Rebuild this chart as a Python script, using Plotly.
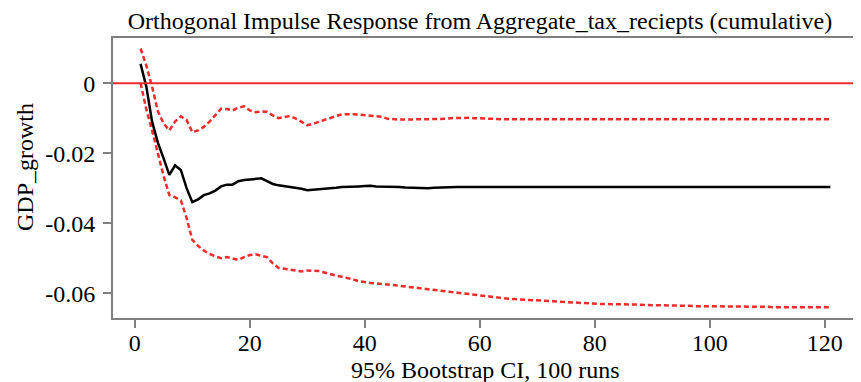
import plotly.graph_objects as go

periods = list(range(1, 122))

response = [
    0.0055, -0.0010, -0.0110, -0.0170, -0.0215, -0.0262, -0.0235, -0.0248, -0.0300, -0.0340,
    -0.0332, -0.0320, -0.0315, -0.0307, -0.0295, -0.0290, -0.0290, -0.0280, -0.0277, -0.0276,
    -0.0273, -0.0272, -0.0280, -0.0288, -0.0292, -0.0294, -0.0297, -0.0300, -0.0302, -0.0306,
    -0.0305, -0.0304, -0.0303, -0.0302, -0.0299, -0.0297, -0.0297, -0.0296, -0.0295, -0.0294,
    -0.0293, -0.0295, -0.0295, -0.0296, -0.0296, -0.0297, -0.0298, -0.0299, -0.0300, -0.0300,
    -0.0300, -0.0299, -0.0298, -0.0297, -0.0297, -0.0297, -0.0297, -0.0297, -0.0297, -0.0297,
    -0.0297, -0.0297, -0.0297, -0.0297, -0.0297, -0.0297, -0.0297, -0.0297, -0.0297, -0.0297,
    -0.0297, -0.0297, -0.0297, -0.0297, -0.0297, -0.0297, -0.0297, -0.0297, -0.0297, -0.0297,
    -0.0297, -0.0297, -0.0297, -0.0297, -0.0297, -0.0297, -0.0297, -0.0297, -0.0297, -0.0297,
    -0.0297, -0.0297, -0.0297, -0.0297, -0.0297, -0.0297, -0.0297, -0.0297, -0.0297, -0.0297,
    -0.0297, -0.0297, -0.0297, -0.0297, -0.0297, -0.0297, -0.0297, -0.0297, -0.0297, -0.0297,
    -0.0297, -0.0297, -0.0297, -0.0297, -0.0297, -0.0297, -0.0297, -0.0297, -0.0297, -0.0297,
    -0.0297,
]

upper_ci = [
    0.0099, 0.0050, -0.0010, -0.0080, -0.0115, -0.0135, -0.0110, -0.0095, -0.0105, -0.0140,
    -0.0135, -0.0125, -0.0110, -0.0090, -0.0073, -0.0074, -0.0078, -0.0070, -0.0066, -0.0078,
    -0.0083, -0.0081, -0.0082, -0.0092, -0.0100, -0.0097, -0.0094, -0.0101, -0.0110, -0.0120,
    -0.0116, -0.0110, -0.0105, -0.0099, -0.0094, -0.0089, -0.0088, -0.0089, -0.0090, -0.0091,
    -0.0092, -0.0093, -0.0096, -0.0102, -0.0104, -0.0104, -0.0104, -0.0104, -0.0104, -0.0104,
    -0.0104, -0.0104, -0.0103, -0.0102, -0.0100, -0.0099, -0.0098, -0.0099, -0.0100, -0.0101,
    -0.0102, -0.0103, -0.0103, -0.0103, -0.0103, -0.0103, -0.0103, -0.0103, -0.0103, -0.0103,
    -0.0103, -0.0103, -0.0103, -0.0103, -0.0103, -0.0103, -0.0103, -0.0103, -0.0103, -0.0103,
    -0.0103, -0.0103, -0.0103, -0.0103, -0.0103, -0.0103, -0.0103, -0.0103, -0.0103, -0.0103,
    -0.0103, -0.0103, -0.0103, -0.0103, -0.0103, -0.0103, -0.0103, -0.0103, -0.0103, -0.0103,
    -0.0103, -0.0103, -0.0103, -0.0103, -0.0103, -0.0103, -0.0103, -0.0103, -0.0103, -0.0103,
    -0.0103, -0.0103, -0.0103, -0.0103, -0.0103, -0.0103, -0.0103, -0.0103, -0.0103, -0.0103,
    -0.0103,
]

lower_ci = [
    0.0000, -0.0075, -0.0135, -0.0200, -0.0265, -0.0320, -0.0326, -0.0335, -0.0385, -0.0448,
    -0.0465, -0.0478, -0.0488, -0.0495, -0.0500, -0.0497, -0.0500, -0.0505, -0.0497, -0.0491,
    -0.0489, -0.0493, -0.0497, -0.0515, -0.0528, -0.0530, -0.0532, -0.0536, -0.0538, -0.0535,
    -0.0535, -0.0537, -0.0541, -0.0546, -0.0550, -0.0553, -0.0556, -0.0561, -0.0566, -0.0569,
    -0.0571, -0.0572, -0.0573, -0.0575, -0.0577, -0.0579, -0.0581, -0.0583, -0.0586, -0.0588,
    -0.0590, -0.0592, -0.0594, -0.0596, -0.0598, -0.0600, -0.0602, -0.0604, -0.0606, -0.0608,
    -0.0609, -0.0611, -0.0613, -0.0614, -0.0616, -0.0617, -0.0618, -0.0620, -0.0621, -0.0622,
    -0.0623, -0.0624, -0.0625, -0.0626, -0.0627, -0.0628, -0.0629, -0.0630, -0.0630, -0.0631,
    -0.0631, -0.0631, -0.0631, -0.0632, -0.0632, -0.0633, -0.0633, -0.0633, -0.0634, -0.0634,
    -0.0635, -0.0635, -0.0635, -0.0636, -0.0636, -0.0636, -0.0637, -0.0637, -0.0637, -0.0637,
    -0.0638, -0.0638, -0.0638, -0.0638, -0.0639, -0.0639, -0.0639, -0.0639, -0.0639, -0.0639,
    -0.0640, -0.0640, -0.0640, -0.0640, -0.0640, -0.0640, -0.0640, -0.0640, -0.0640, -0.0640,
    -0.0640,
]

x_ticks = [0, 20, 40, 60, 80, 100, 120]
y_ticks = [0, -0.02, -0.04, -0.06]
y_tick_labels = ["0", "-0.02", "-0.04", "-0.06"]

title_text = "Orthogonal Impulse Response from Aggregate_tax_reciepts (cumulative)"
x_title = "95% Bootstrap CI, 100 runs"
y_title = "GDP_growth"

FONT = "Liberation Serif"
RED = "#EE2C2C"
GRAY = "#7F7F7F"

# The page body adds an 8px margin, so the figure is 8px smaller than the window.
W, H = 853, 374
ML, MR, MT, MB = 105, 3, 30, 64
PH = H - MT - MB

fig = go.Figure()
fig.add_hline(y=0, line=dict(color=RED, width=2))
fig.add_trace(go.Scatter(x=periods, y=upper_ci, mode="lines",
                         line=dict(color=RED, width=2.5, dash="5px,3px"), showlegend=False))
fig.add_trace(go.Scatter(x=periods, y=lower_ci, mode="lines",
                         line=dict(color=RED, width=2.5, dash="5px,3px"), showlegend=False))
fig.add_trace(go.Scatter(x=periods, y=response, mode="lines",
                         line=dict(color="black", width=2.5), showlegend=False))

fig.update_layout(
    width=W, height=H,
    margin=dict(l=ML, r=MR, t=MT, b=MB),
    paper_bgcolor="white", plot_bgcolor="white",
    font=dict(family=FONT, size=24, color="black"),
    title=dict(text=title_text, x=472 / W, xref="container", xanchor="center",
               y=1 - 13 / H, yref="container", yanchor="middle",
               font=dict(family=FONT, size=24, color="black")),
    annotations=[
        dict(text=x_title, xref="paper", yref="paper", x=0.5, y=0,
             yshift=-52, xanchor="center", yanchor="middle", showarrow=False,
             font=dict(family=FONT, size=24, color="black")),
        dict(text=y_title, xref="paper", yref="paper", x=0, y=(MT + PH - 159) / PH,
             xshift=-(ML - 17), xanchor="center", yanchor="middle", textangle=-90,
             showarrow=False, font=dict(family=FONT, size=24, color="black")),
    ],
)
fig.update_xaxes(
    range=[-3.8, 125.8], tickvals=x_ticks, ticks="outside", ticklen=8,
    tickwidth=2, tickcolor=GRAY, showline=True, linecolor=GRAY, linewidth=2,
    mirror=True, showgrid=False, zeroline=False, automargin=False,
    ticklabelstandoff=-6,
)
fig.update_yaxes(
    range=[-0.0671, 0.0129], tickvals=y_ticks, ticktext=y_tick_labels,
    ticks="outside", ticklen=8, tickwidth=2, tickcolor=GRAY, ticklabelstandoff=3,
    showline=True, linecolor=GRAY, linewidth=2, showgrid=False, zeroline=False,
    automargin=False,
)

fig.write_html("out.html")
